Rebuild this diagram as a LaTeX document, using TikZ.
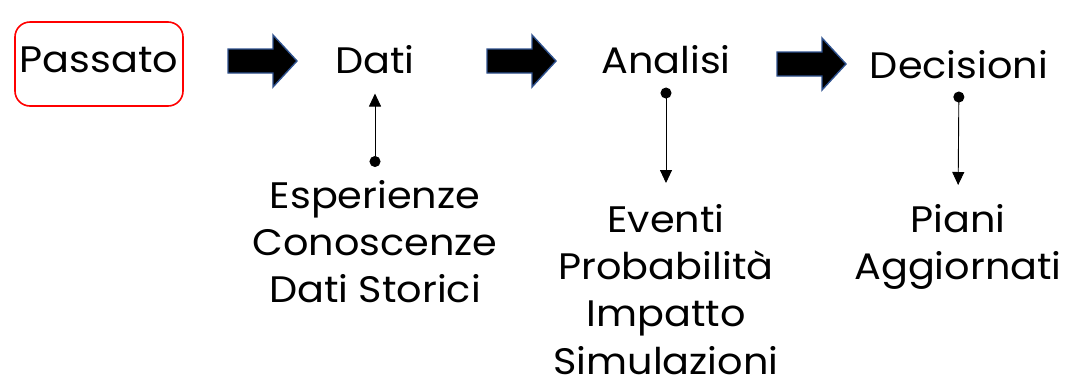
\documentclass[tikz,border=0pt]{standalone}
\usepackage{fontspec}
\setmainfont{Poppins}[FakeStretch=1.08]
\usetikzlibrary{arrows.meta}
\definecolor{boxR}{RGB}{255,0,0}
\definecolor{arrB}{RGB}{47,82,143}

\begin{document}
\begin{tikzpicture}[x=1bp,y=-1bp,
  lbl/.style={font=\fontsize{37}{47.5}\selectfont,inner sep=0pt,align=center},
  passbox/.style={lbl,draw=boxR,line width=1.6bp,rounded corners=15bp,minimum width=168bp,minimum height=84bp,text depth=8bp},
  link/.style={line width=0.9bp,{Circle[length=11bp]}-{Triangle[length=13bp,width=12bp]}},
  fatarrow/.style={fill=black,draw=arrB,line width=1.4bp,line join=miter}]
\useasboundingbox (0,0) rectangle (1085,380);
% top row
\node[passbox] (passato) at (99,64) {Passato};
\node[lbl,anchor=base] (dati) at (375,73) {Dati};
\node[lbl,anchor=base] (analisi) at (666,73) {Analisi};
\node[lbl,anchor=base] (decisioni) at (959,78) {Decisioni};
% block arrows between the steps
\foreach \x/\y in {228/61,487/61,777/64}
  \draw[fatarrow] (\x,\y-12) -- ++(45,0) -- ++(0,-14) -- ++(24,26) -- ++(-24,26) -- ++(0,-14) -- ++(-45,0) -- cycle;
% lower labels
\node[lbl,anchor=north] (esper) at (375,180) {Esperienze\\Conoscenze\\Dati Storici};
\node[lbl,anchor=north] (eventi) at (666,204) {Eventi\\Probabilità\\Impatto\\Simulazioni};
\node[lbl,anchor=north] (piani) at (958,204) {Piani\\Aggiornati};
% connectors
\draw[link,shorten <=13bp,shorten >=20bp] (esper.north) -- (dati.south);
\draw[link,shorten <=14bp,shorten >=21bp] (analisi.south) -- (eventi.north);
\draw[link,shorten <=13bp,shorten >=19bp] (decisioni.south) -- (piani.north);
\end{tikzpicture}
\end{document}
